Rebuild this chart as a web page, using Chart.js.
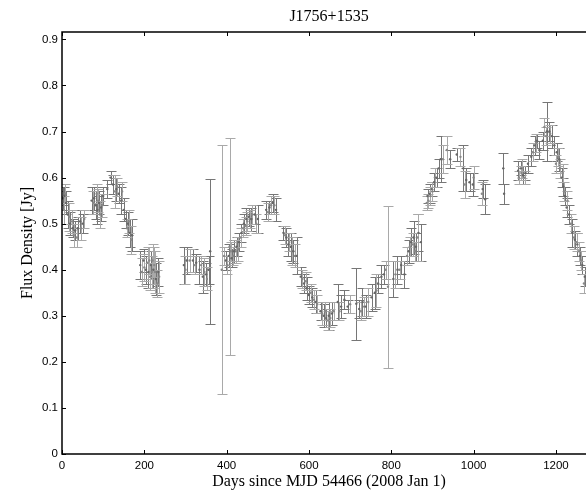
<!DOCTYPE html>
<html><head><meta charset="utf-8">
<script src="https://cdn.jsdelivr.net/npm/chart.js@4/dist/chart.umd.min.js"></script>
<style>html,body{margin:0;padding:0;background:#fff;overflow:hidden}</style>
</head><body><canvas id="c" width="586" height="494"></canvas>
<script>
const titleText = "J1756+1535";
const xTitle = "Days since MJD 54466 (2008 Jan 1)";
const yTitle = "Flux Density [Jy]";
const xTicks = [0, 200, 400, 600, 800, 1000, 1200];
const yTicks = [0, 0.1, 0.2, 0.3, 0.4, 0.5, 0.6, 0.7, 0.8, 0.9];

// Series A (darker points)
const daysA = [2,6,10,14,20,26,32,38,44,50,72,78,82,86,90,95,100,110,118,124,132,138,144,150,155,160,165,170,190,198,204,210,216,222,228,234,296,303,318,326,334,342,350,356,360,398,405,412,418,424,430,436,442,448,454,460,468,476,496,504,512,520,538,545,550,556,562,570,580,588,594,600,608,616,628,636,642,648,656,670,678,686,694,715,722,730,738,752,760,768,776,782,805,815,824,832,842,848,854,860,866,872,888,893,898,904,910,915,920,943,959,975,982,990,998,1022,1028,1072,1074,1108,1114,1120,1126,1132,1140,1148,1154,1160,1168,1178,1184,1190,1196,1202,1208,1214,1218,1222,1226,1232,1240,1246,1252,1258,1264,1270];
const fluxA = [0.555,0.56,0.545,0.52,0.50,0.49,0.485,0.49,0.505,0.50,0.55,0.555,0.54,0.53,0.545,0.535,0.56,0.575,0.60,0.585,0.575,0.565,0.55,0.53,0.51,0.50,0.48,0.475,0.41,0.42,0.40,0.395,0.41,0.40,0.38,0.395,0.41,0.42,0.42,0.415,0.40,0.385,0.39,0.40,0.44,0.42,0.43,0.425,0.44,0.45,0.46,0.48,0.50,0.51,0.515,0.51,0.52,0.51,0.53,0.535,0.545,0.53,0.48,0.47,0.455,0.45,0.44,0.43,0.385,0.37,0.36,0.345,0.34,0.33,0.31,0.30,0.295,0.30,0.305,0.33,0.32,0.335,0.32,0.326,0.315,0.33,0.32,0.34,0.35,0.37,0.385,0.39,0.38,0.40,0.41,0.39,0.44,0.46,0.47,0.45,0.48,0.46,0.56,0.565,0.575,0.59,0.60,0.62,0.64,0.64,0.65,0.62,0.595,0.59,0.585,0.575,0.553,0.62,0.565,0.615,0.62,0.605,0.61,0.63,0.645,0.67,0.68,0.66,0.68,0.70,0.70,0.69,0.67,0.655,0.64,0.60,0.58,0.56,0.535,0.52,0.48,0.465,0.455,0.43,0.41,0.385];
const errA = [0.025,0.02,0.025,0.03,0.025,0.02,0.02,0.025,0.025,0.02,0.03,0.025,0.03,0.03,0.025,0.03,0.02,0.02,0.015,0.02,0.025,0.02,0.03,0.025,0.02,0.025,0.03,0.035,0.03,0.025,0.03,0.035,0.03,0.04,0.035,0.03,0.04,0.03,0.025,0.02,0.03,0.035,0.025,0.03,0.158,0.02,0.025,0.02,0.025,0.02,0.02,0.02,0.02,0.025,0.02,0.025,0.02,0.03,0.02,0.015,0.02,0.025,0.015,0.02,0.025,0.03,0.025,0.04,0.02,0.02,0.025,0.02,0.02,0.025,0.02,0.025,0.02,0.03,0.025,0.04,0.025,0.02,0.015,0.078,0.02,0.03,0.025,0.03,0.035,0.02,0.025,0.02,0.04,0.03,0.02,0.03,0.025,0.03,0.035,0.03,0.04,0.04,0.015,0.02,0.015,0.02,0.02,0.02,0.05,0.02,0.015,0.05,0.025,0.02,0.025,0.02,0.033,0.033,0.022,0.02,0.015,0.02,0.015,0.02,0.02,0.02,0.015,0.02,0.02,0.065,0.02,0.025,0.02,0.02,0.025,0.02,0.02,0.02,0.02,0.02,0.03,0.02,0.025,0.02,0.02,0.02];

// Series B (lighter points)
const daysB = [4,8,18,24,28,36,46,54,76,84,88,92,98,128,134,146,158,162,168,194,200,208,212,214,218,220,224,226,232,236,300,310,322,338,346,352,388,394,402,407,410,416,422,428,434,440,446,450,456,462,472,500,508,516,542,552,558,566,584,592,604,612,620,632,640,646,652,660,674,700,726,734,744,764,786,792,810,820,838,845,852,858,864,886,890,895,900,906,925,935,968,978,1000,1020,1110,1116,1118,1124,1144,1152,1172,1176,1186,1200,1206,1210,1216,1220,1228,1236,1244,1250,1256,1262,1268];
const fluxB = [0.53,0.565,0.515,0.505,0.475,0.47,0.49,0.51,0.545,0.565,0.55,0.52,0.54,0.57,0.58,0.57,0.49,0.505,0.465,0.395,0.405,0.415,0.42,0.385,0.395,0.42,0.41,0.395,0.37,0.385,0.40,0.42,0.41,0.41,0.395,0.38,0.40,0.43,0.41,0.45,0.44,0.43,0.44,0.445,0.47,0.49,0.495,0.505,0.51,0.52,0.50,0.525,0.54,0.54,0.475,0.46,0.44,0.43,0.38,0.375,0.35,0.335,0.325,0.305,0.31,0.29,0.295,0.31,0.31,0.325,0.31,0.32,0.33,0.355,0.40,0.363,0.39,0.40,0.43,0.45,0.455,0.44,0.47,0.545,0.55,0.56,0.57,0.60,0.64,0.66,0.645,0.585,0.60,0.565,0.60,0.61,0.62,0.60,0.655,0.675,0.71,0.69,0.695,0.63,0.645,0.62,0.61,0.57,0.55,0.50,0.47,0.46,0.44,0.42,0.37];
const errB = [0.03,0.02,0.03,0.025,0.025,0.02,0.025,0.02,0.025,0.02,0.025,0.03,0.025,0.035,0.02,0.02,0.02,0.025,0.03,0.03,0.03,0.035,0.03,0.03,0.035,0.035,0.04,0.045,0.03,0.035,0.03,0.025,0.02,0.02,0.03,0.025,0.27,0.02,0.02,0.235,0.02,0.02,0.025,0.025,0.02,0.02,0.02,0.02,0.02,0.02,0.02,0.02,0.02,0.02,0.02,0.02,0.03,0.025,0.02,0.02,0.02,0.02,0.02,0.025,0.02,0.02,0.02,0.02,0.02,0.02,0.02,0.02,0.03,0.035,0.02,0.176,0.03,0.02,0.02,0.02,0.025,0.02,0.05,0.015,0.015,0.02,0.02,0.02,0.03,0.03,0.02,0.03,0.025,0.025,0.015,0.015,0.02,0.015,0.02,0.02,0.02,0.02,0.02,0.02,0.02,0.02,0.02,0.02,0.02,0.02,0.025,0.02,0.02,0.02,0.02];

const colorA = '#767676';
const colorB = '#a9a9a9';

function toPoints(d, f, e) { return d.map((x, i) => ({ x: x, y: f[i], e: e[i] })); }

const errorBars = {
  id: 'errorBars',
  beforeDatasetsDraw(chart) {
    const ctx = chart.ctx, xs = chart.scales.x, ys = chart.scales.y, a = chart.chartArea;
    ctx.save();
    ctx.beginPath(); ctx.rect(a.left, a.top, a.right - a.left, a.bottom - a.top); ctx.clip();
    chart.data.datasets.forEach(ds => {
      ctx.strokeStyle = ds.barColor; ctx.lineWidth = 1;
      ds.data.forEach(p => {
        const px = Math.round(xs.getPixelForValue(p.x)) + 0.5;
        const y1 = Math.round(ys.getPixelForValue(p.y + p.e)) + 0.5;
        const y2 = Math.round(ys.getPixelForValue(p.y - p.e)) + 0.5;
        ctx.beginPath();
        ctx.moveTo(px, y1); ctx.lineTo(px, y2);
        ctx.moveTo(px - 5, y1); ctx.lineTo(px + 5, y1);
        ctx.moveTo(px - 5, y2); ctx.lineTo(px + 5, y2);
        ctx.stroke();
      });
    });
    ctx.restore();
  },
  afterDraw(chart) {
    const ctx = chart.ctx, xs = chart.scales.x, ys = chart.scales.y, a = chart.chartArea;
    ctx.save();
    ctx.strokeStyle = '#000'; ctx.lineWidth = 1.5;
    ctx.beginPath();
    ctx.moveTo(a.left, a.top); ctx.lineTo(a.left, a.bottom);
    ctx.moveTo(a.left - 0.75, a.bottom); ctx.lineTo(a.right, a.bottom);
    ctx.moveTo(a.left - 0.75, a.top); ctx.lineTo(a.right, a.top);
    ctx.stroke();
    ctx.lineWidth = 1;
    ctx.beginPath();
    xTicks.forEach(v => {
      const px = Math.round(xs.getPixelForValue(v)) + 0.5;
      ctx.moveTo(px, a.bottom); ctx.lineTo(px, a.bottom - 4);
      ctx.moveTo(px, a.top); ctx.lineTo(px, a.top + 4);
    });
    yTicks.forEach(v => {
      const py = Math.round(ys.getPixelForValue(v)) + 0.5;
      ctx.moveTo(a.left, py); ctx.lineTo(a.left + 4, py);
    });
    ctx.stroke();
    ctx.fillStyle = '#000';
    ctx.font = '16px "Liberation Serif", "Times New Roman", serif';
    ctx.textAlign = 'center'; ctx.textBaseline = 'alphabetic';
    ctx.fillText(titleText, 329, 21);
    ctx.fillText(xTitle, 329, 486);
    ctx.translate(32, 243); ctx.rotate(-Math.PI / 2);
    ctx.fillText(yTitle, 0, 0);
    ctx.restore();
  }
};

const tickFont = { family: '"Liberation Sans", Arial, sans-serif', size: 11.5 };

new Chart(document.getElementById('c'), {
  type: 'scatter',
  data: {
    datasets: [
      { data: toPoints(daysA, fluxA, errA), barColor: colorA, backgroundColor: '#666', borderColor: '#666', pointRadius: 1.2, pointHoverRadius: 1.2, borderWidth: 0 },
      { data: toPoints(daysB, fluxB, errB), barColor: colorB, backgroundColor: '#888', borderColor: '#888', pointRadius: 1.2, pointHoverRadius: 1.2, borderWidth: 0 }
    ]
  },
  options: {
    responsive: false, animation: false, devicePixelRatio: 1,
    layout: { autoPadding: false, padding: { top: 32, right: 0, left: 0, bottom: 0 } },
    plugins: { legend: { display: false }, title: { display: false }, tooltip: { enabled: false } },
    scales: {
      x: {
        type: 'linear', min: 0, max: 1273,
        afterFit(s) { s.height = 40; s.paddingRight = 0; s.paddingLeft = 0; },
        afterBuildTicks(s) { s.ticks = xTicks.map(v => ({ value: v })); },
        grid: { display: false, drawTicks: false },
        border: { display: false },
        ticks: { font: tickFont, color: '#000', padding: 5, maxRotation: 0, autoSkip: false, callback: v => String(v) }
      },
      y: {
        type: 'linear', min: 0, max: 0.916,
        afterFit(s) { s.width = 62; s.paddingTop = 0; s.paddingBottom = 0; },
        afterBuildTicks(s) { s.ticks = yTicks.map(v => ({ value: v })); },
        grid: { display: false, drawTicks: false },
        border: { display: false },
        ticks: { font: tickFont, color: '#000', padding: 4, autoSkip: false, callback: v => (v === 0 ? '0' : v.toFixed(1)) }
      }
    }
  },
  plugins: [errorBars]
});
</script>
</body></html>
